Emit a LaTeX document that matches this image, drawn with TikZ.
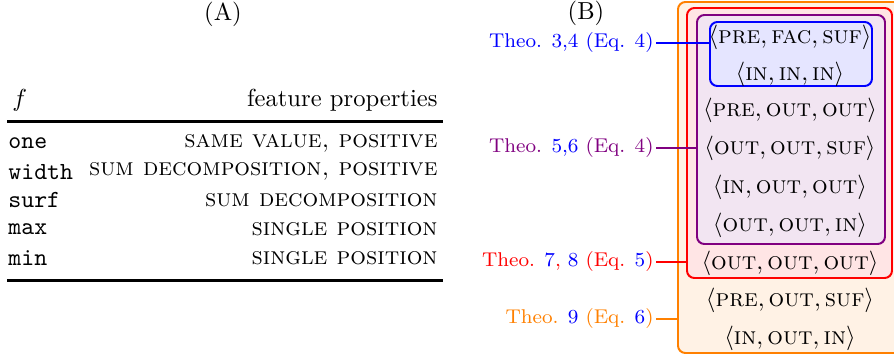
\documentclass[tikz,border=0pt]{standalone}
\usetikzlibrary{fit}
\begin{document}
\begin{tikzpicture}[x=0.4065pt,y=-0.4065pt,
  boxstyle/.style={draw, line width=0.8pt, rounded corners=3pt, inner sep=0pt},
  rowtext/.style={anchor=center, inner sep=0pt},
  lab/.style={font=\fontsize{8.1}{10}\selectfont, anchor=east, inner sep=0pt},
  conn/.style={line width=0.5pt},
  leftcol/.style={anchor=west, inner sep=0pt},
  rightcol/.style={anchor=east, inner sep=0pt},
  rulestyle/.style={line width=1.2pt}]
\useasboundingbox (0,0) rectangle (894,355);

% ---- (A) table ----
\node[inner sep=0pt] (titleA) at (223,14) {(A)};
\node[leftcol] (hf) at (12,100) {$f$};
\node[rightcol] (hprop) at (438,100) {feature properties};
\draw[rulestyle] (7,121.5) -- (443,121.5);
\node[leftcol] (r1a) at (8,143) {\texttt{one}};
\node[rightcol] (r1b) at (438,143) {\textsc{same value, positive}};
\node[leftcol] (r2a) at (8,171.7) {\texttt{width}};
\node[rightcol] (r2b) at (438,171.7) {\textsc{sum decomposition, positive}};
\node[leftcol] (r3a) at (8,200.4) {\texttt{surf}};
\node[rightcol] (r3b) at (438,200.4) {\textsc{sum decomposition}};
\node[leftcol] (r4a) at (8,229.1) {\texttt{max}};
\node[rightcol] (r4b) at (438,229.1) {\textsc{single position}};
\node[leftcol] (r5a) at (8,257.8) {\texttt{min}};
\node[rightcol] (r5b) at (438,257.8) {\textsc{single position}};
\draw[rulestyle] (7,280.5) -- (443,280.5);

% ---- (B) nested boxes ----
\node[inner sep=0pt] (titleB) at (586,13) {(B)};
\node[boxstyle, draw=orange, fill=orange!10, fit={(678,2)(905,353)}] (orangebox) {};
\node[boxstyle, draw=red, fill=red!10, fit={(687,8)(892,278)}] (redbox) {};
\node[boxstyle, draw=violet, fill=violet!10, fit={(697,15)(885,244)}] (purplebox) {};
\node[boxstyle, draw=blue, fill=blue!10, fit={(710,22)(872,86)}] (bluebox) {};

\node[rowtext] (t1) at (790,37) {$\langle\textsc{pre}, \textsc{fac}, \textsc{suf}\rangle$};
\node[rowtext] (t2) at (790,74) {$\langle\textsc{in}, \textsc{in}, \textsc{in}\rangle$};
\node[rowtext] (t3) at (790,110) {$\langle\textsc{pre}, \textsc{out}, \textsc{out}\rangle$};
\node[rowtext] (t4) at (790,148) {$\langle\textsc{out}, \textsc{out}, \textsc{suf}\rangle$};
\node[rowtext] (t5) at (790,187) {$\langle\textsc{in}, \textsc{out}, \textsc{out}\rangle$};
\node[rowtext] (t6) at (790,225) {$\langle\textsc{out}, \textsc{out}, \textsc{in}\rangle$};
\node[rowtext] (t7) at (790,263) {$\langle\textsc{out}, \textsc{out}, \textsc{out}\rangle$};
\node[rowtext] (t8) at (790,300) {$\langle\textsc{pre}, \textsc{out}, \textsc{suf}\rangle$};
\node[rowtext] (t9) at (790,338) {$\langle\textsc{in}, \textsc{out}, \textsc{in}\rangle$};

% ---- labels ----
\node[lab, text=blue] (lab1) at (654,43) {Theo. 3,4 (Eq. 4)};
\node[lab, text=violet] (lab2) at (654,148) {Theo. \textcolor{blue}{5,6} (Eq. 4)};
\node[lab, text=red] (lab3) at (654,262) {Theo. \textcolor{blue}{7}, \textcolor{blue}{8} (Eq. \textcolor{blue}{5})};
\node[lab, text=orange] (lab4) at (654,319) {Theo. \textcolor{blue}{9} (Eq. \textcolor{blue}{6})};

\draw[conn, blue] ([xshift=1pt]lab1.east) -- (lab1.east -| bluebox.west);
\draw[conn, violet] ([xshift=1pt]lab2.east) -- (lab2.east -| purplebox.west);
\draw[conn, red] ([xshift=1pt]lab3.east) -- (lab3.east -| redbox.west);
\draw[conn, orange] ([xshift=1pt]lab4.east) -- (lab4.east -| orangebox.west);
\end{tikzpicture}
\end{document}
